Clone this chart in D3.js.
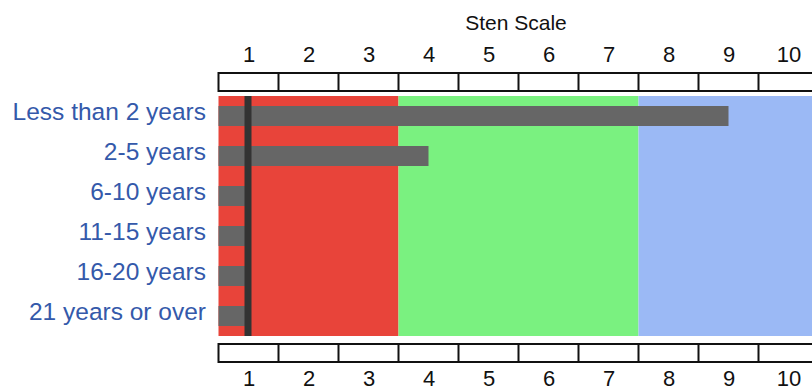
<!DOCTYPE html>
<html><head><meta charset="utf-8">
<script src="https://cdn.jsdelivr.net/npm/d3@7/dist/d3.min.js"></script>
<style>
html,body{margin:0;padding:0;background:#fff;}
svg{display:block;}
text{font-family:Arial,"Liberation Sans",sans-serif;}
</style></head>
<body>
<svg id="chart" width="812" height="392"></svg>
<script>
const categories = ["Less than 2 years","2-5 years","6-10 years","11-15 years","16-20 years","21 years or over"];
const values = [9, 4, 1, 1, 1, 1];
const stenTicks = [1,2,3,4,5,6,7,8,9,10];
const bands = [
  {from:0.5, to:3.5, color:"#e8443a"},
  {from:3.5, to:7.5, color:"#7af180"},
  {from:7.5, to:10.5, color:"#9bb9f5"}
];
const markerValue = 1;
const axisTitle = "Sten Scale";

const svg = d3.select("#chart");
const x = d3.scaleLinear().domain([0.5, 10.5]).range([218.5, 818.5]);
const y = d3.scaleBand().domain(categories).range([96, 336]).paddingInner(0.5).paddingOuter(0.25);

svg.append("g").selectAll("rect").data(bands).join("rect")
  .attr("x", d => x(d.from)).attr("width", d => x(d.to) - x(d.from))
  .attr("y", 96).attr("height", 240).attr("fill", d => d.color);

svg.append("g").selectAll("rect").data(values).join("rect")
  .attr("x", x(0.5)).attr("width", d => x(d) - x(0.5))
  .attr("y", (d,i) => y(categories[i])).attr("height", y.bandwidth())
  .attr("fill", "#666666");

svg.append("rect").attr("x", x(markerValue) - 4).attr("width", 7)
  .attr("y", 96).attr("height", 240).attr("fill", "#333333");

svg.append("g").selectAll("text").data(categories).join("text")
  .attr("x", 206).attr("y", d => y(d) + y.bandwidth()/2 + 4)
  .attr("text-anchor", "end").attr("font-size", 24.5).attr("fill", "#3459aa")
  .text(d => d);

const seps = stenTicks.map(t => t + 0.5);
function box(y0, h) {
  const g = svg.append("g");
  g.append("rect").attr("x", x(0.5)).attr("y", y0).attr("width", x(10.5) - x(0.5)).attr("height", h)
    .attr("fill", "#fff").attr("stroke", "#111").attr("stroke-width", 2);
  g.selectAll("line").data(seps).join("line")
    .attr("x1", d => x(d)).attr("x2", d => x(d)).attr("y1", y0).attr("y2", y0 + h)
    .attr("stroke", "#111").attr("stroke-width", 2);
}
box(73, 18);
box(344, 18);

const topAxis = d3.axisTop(x).tickValues(stenTicks).tickSize(0).tickPadding(0);
const gt = svg.append("g").attr("transform", "translate(0,62)").call(topAxis);
const botAxis = d3.axisBottom(x).tickValues(stenTicks).tickSize(0).tickPadding(0);
const gb = svg.append("g").attr("transform", "translate(0,370)").call(botAxis);
[gt, gb].forEach(g => {
  g.select(".domain").remove();
  g.selectAll("text").attr("font-size", 22).attr("fill", "#111").attr("font-family", "Arial, 'Liberation Sans', sans-serif");
});
gt.selectAll("text").attr("dy", 0);
gb.selectAll("text").attr("dy", "0.72em");

svg.append("text").attr("x", 516).attr("y", 30).attr("text-anchor", "middle")
  .attr("font-size", 21).attr("fill", "#111").text(axisTitle);
</script>
</body></html>
